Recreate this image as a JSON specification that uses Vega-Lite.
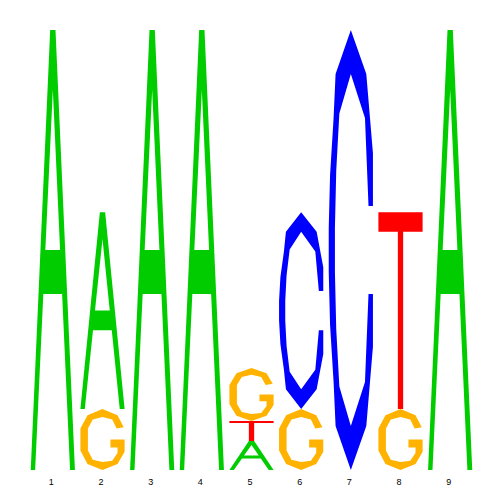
{
  "$schema": "https://vega.github.io/schema/vega-lite/v6.json",
  "width": 447,
  "height": 440,
  "autosize": "none",
  "padding": {"left": 28, "top": 30, "right": 25, "bottom": 30},
  "background": "white",
  "config": {"view": {"stroke": null}},
  "datasets": {
    "glyphs": [
      {"letter": "A",
       "u": [0, 0.44, 0.56, 1, 0.89, 0.71, 0.285, 0.33, 0.664, 0.5, 0.33, 0.285, 0.1],
       "v": [0, 1, 1, 0, 0, 0.4, 0.4, 0.5, 0.5, 0.864, 0.5, 0.4, 0],
       "k": [0, 1, 2, 3, 4, 5, 6, 7, 8, 9, 10, 11, 12]},
      {"letter": "C",
       "u": [1.0, 1.0, 0.85, 0.5, 0.155, 0.11, 0.03, 0.0, 0.0, 0.03, 0.11, 0.155, 0.5, 0.85, 1.0, 1.0, 0.9, 0.82, 0.5, 0.24, 0.17, 0.14, 0.14, 0.17, 0.24, 0.5, 0.82, 0.9],
       "v": [0.6, 0.72, 0.9, 1.0, 0.9, 0.8, 0.67, 0.55, 0.45, 0.33, 0.2, 0.1, 0.0, 0.1, 0.28, 0.4, 0.4, 0.2, 0.1, 0.19, 0.32, 0.45, 0.55, 0.68, 0.81, 0.9, 0.8, 0.6],
       "k": [0, 1, 2, 3, 4, 5, 6, 7, 8, 9, 10, 11, 12, 13, 14, 15, 16, 17, 18, 19, 20, 21, 22, 23, 24, 25, 26, 27]},
      {"letter": "G",
       "u": [0.98, 0.84, 0.5, 0.16, 0.0, 0.0, 0.16, 0.5, 0.84, 1.0, 1.0, 0.68, 0.68, 0.84, 0.84, 0.72, 0.5, 0.28, 0.17, 0.17, 0.28, 0.5, 0.72, 0.82],
       "v": [0.7, 0.9, 1.0, 0.9, 0.68, 0.32, 0.1, 0.0, 0.1, 0.3, 0.5, 0.5, 0.37, 0.37, 0.28, 0.15, 0.13, 0.17, 0.32, 0.68, 0.83, 0.87, 0.83, 0.68],
       "k": [0, 1, 2, 3, 4, 5, 6, 7, 8, 9, 10, 11, 12, 13, 14, 15, 16, 17, 18, 19, 20, 21, 22, 23]},
      {"letter": "T",
       "u": [0, 1, 1, 0.56, 0.56, 0.44, 0.44, 0],
       "v": [1, 1, 0.9, 0.9, 0, 0, 0.9, 0.9],
       "k": [0, 1, 2, 3, 4, 5, 6, 7]}
    ]
  },
  "data": {
    "values": [
      {"pos": 1, "letter": "A", "bits": 2.0},
      {"pos": 2, "letter": "G", "bits": 0.277},
      {"pos": 2, "letter": "A", "bits": 0.895},
      {"pos": 3, "letter": "A", "bits": 2.0},
      {"pos": 4, "letter": "A", "bits": 2.0},
      {"pos": 5, "letter": "A", "bits": 0.132},
      {"pos": 5, "letter": "T", "bits": 0.091},
      {"pos": 5, "letter": "G", "bits": 0.241},
      {"pos": 6, "letter": "G", "bits": 0.277},
      {"pos": 6, "letter": "C", "bits": 0.895},
      {"pos": 7, "letter": "C", "bits": 2.0},
      {"pos": 8, "letter": "G", "bits": 0.277},
      {"pos": 8, "letter": "T", "bits": 0.895},
      {"pos": 9, "letter": "A", "bits": 2.0}
    ]
  },
  "transform": [
    {"stack": "bits", "groupby": ["pos"], "as": ["y0", "y1"]},
    {"lookup": "letter", "from": {"data": {"name": "glyphs"}, "key": "letter", "fields": ["u", "v", "k"]}},
    {"flatten": ["u", "v", "k"]},
    {"calculate": "datum.pos + (datum.u - 0.5) * 0.89", "as": "gx"},
    {"calculate": "datum.y0 + datum.v * (datum.y1 - datum.y0)", "as": "gy"}
  ],
  "mark": {"type": "line", "filled": true, "strokeWidth": 0},
  "encoding": {
    "x": {
      "field": "gx", "type": "quantitative",
      "scale": {"domain": [0.5, 9.5], "nice": false, "zero": false},
      "axis": {"values": [1, 2, 3, 4, 5, 6, 7, 8, 9], "domain": false, "ticks": false, "grid": false, "title": null,
               "labelFontSize": 9, "labelFont": "Liberation Sans", "labelColor": "black", "labelPadding": 7, "labelOffset": -2}
    },
    "y": {
      "field": "gy", "type": "quantitative",
      "scale": {"domain": [0, 2], "nice": false, "zero": true},
      "axis": null
    },
    "color": {
      "field": "letter", "type": "nominal",
      "scale": {"domain": ["A", "C", "G", "T"], "range": ["#00CC00", "#0000FF", "#FFB300", "#FF0000"]},
      "legend": null
    },
    "detail": [{"field": "pos", "type": "nominal"}, {"field": "letter", "type": "nominal"}],
    "order": {"field": "k", "type": "quantitative"}
  }
}
